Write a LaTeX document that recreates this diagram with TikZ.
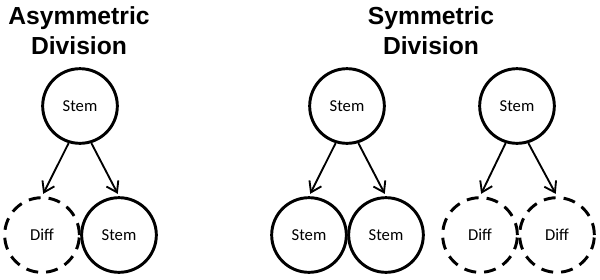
\documentclass[tikz,border=0pt]{standalone}
\usepackage{fontspec}
\setmainfont{Liberation Sans}
\newfontfamily\cellfont{Carlito}
\usetikzlibrary{arrows.meta, positioning}

\begin{document}
\begin{tikzpicture}[x=0.75pt, y=-0.75pt,
  title/.style={align=center, font=\fontsize{18.5}{22.5}\selectfont\bfseries},
  stemcell/.style={circle, draw=black, line width=2.2pt, minimum size=56pt,
                   inner sep=0pt, font=\cellfont\fontsize{12.5}{14}\selectfont},
  diffcell/.style={stemcell, dash pattern=on 9pt off 6pt},
  arr/.style={-{Straight Barb[length=7.5pt, width=10pt]}, line width=1.4pt,
              shorten >=2pt}
]
\useasboundingbox (0,0) rectangle (600,279);

\node[title] (tasym) at (79,31)  {Asymmetric\\Division};
\node[title] (tsym)  at (431,31) {Symmetric\\Division};

% asymmetric
\node[stemcell] (a0) at (80,106)  {Stem};
\node[diffcell] (a1) at (42,235)  {Diff};
\node[stemcell] (a2) at (119,235) {Stem};

% symmetric, self-renewing
\node[stemcell] (b0) at (347,106) {Stem};
\node[stemcell] (b1) at (309,235) {Stem};
\node[stemcell] (b2) at (386,235) {Stem};

% symmetric, differentiating
\node[stemcell] (c0) at (517,106) {Stem};
\node[diffcell] (c1) at (480,235) {Diff};
\node[diffcell] (c2) at (557,235) {Diff};

\draw[arr] (a0.-107) -- (a1.north);
\draw[arr] (a0.-73)  -- (a2.north);
\draw[arr] (b0.-107) -- (b1.north);
\draw[arr] (b0.-73)  -- (b2.north);
\draw[arr] (c0.-107) -- (c1.north);
\draw[arr] (c0.-73)  -- (c2.north);

\end{tikzpicture}
\end{document}
